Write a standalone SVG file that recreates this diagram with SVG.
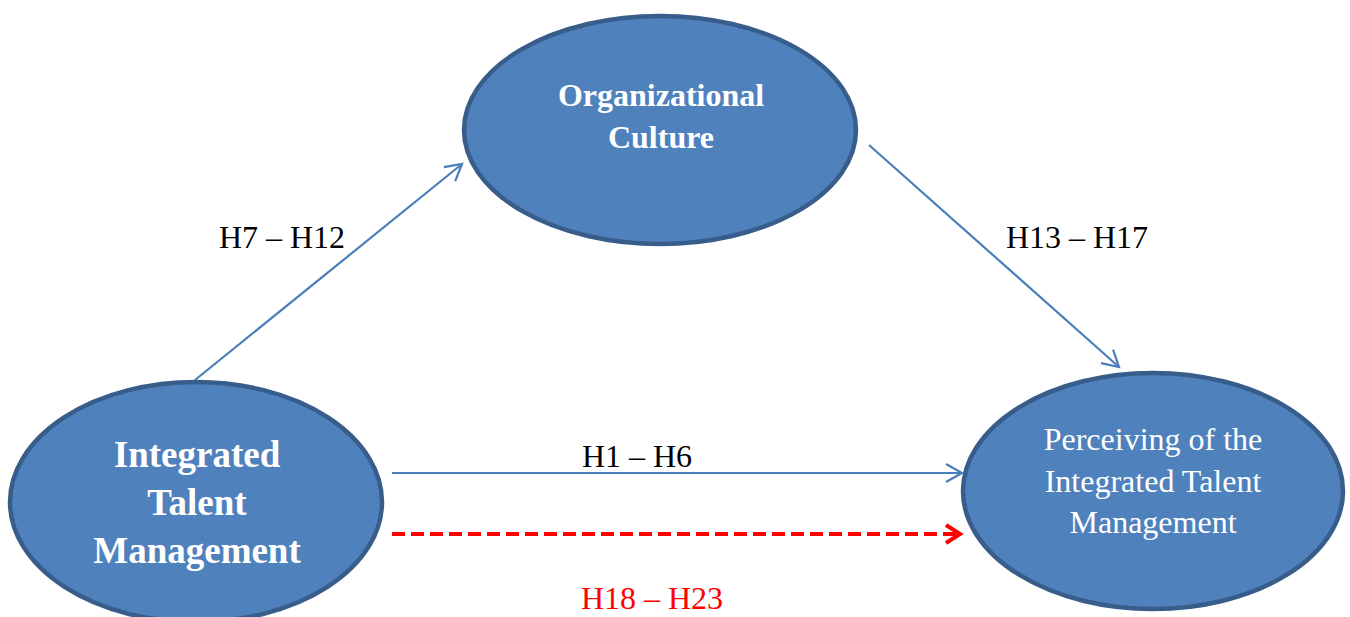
<svg xmlns="http://www.w3.org/2000/svg" width="1350" height="617" viewBox="0 0 1350 617">
<style>
.node{fill:#4F81BD;stroke:#385D8A;stroke-width:4.5}
.lbl{font-family:"Liberation Serif","Times New Roman",serif;font-size:32px;fill:#000;text-anchor:middle}
.nb{font-family:"Liberation Serif","Times New Roman",serif;font-weight:bold;fill:#fff;text-anchor:middle}
.nr{font-family:"Liberation Serif","Times New Roman",serif;fill:#fff;text-anchor:middle;font-size:32px}
.blue{stroke:#4A7EBB;stroke-width:2.2;fill:none}
.red{stroke:#FF0000;stroke-width:4;fill:none;stroke-dasharray:13 6}
</style>
<defs>
<marker id="ab" markerUnits="userSpaceOnUse" markerWidth="30" markerHeight="30" refX="20" refY="10" orient="auto" viewBox="0 0 30 20">
<path d="M4,1 L20,10 L4,19" fill="none" stroke="#4A7EBB" stroke-width="2.2"/>
</marker>
<marker id="ar" markerUnits="userSpaceOnUse" markerWidth="30" markerHeight="30" refX="20" refY="10" orient="auto" viewBox="0 0 30 20">
<path d="M6,1 L20,10 L6,19" fill="none" stroke="#FF0000" stroke-width="4"/>
</marker>
</defs>
<g id="connectors">
<line class="blue" x1="195" y1="380" x2="462" y2="164" marker-end="url(#ab)"/>
<line class="blue" x1="869" y1="145" x2="1119" y2="367" marker-end="url(#ab)"/>
<line class="blue" x1="392" y1="473" x2="962" y2="473" marker-end="url(#ab)"/>
<line class="red" x1="392" y1="534" x2="960" y2="534" marker-end="url(#ar)"/>
<text class="lbl" x="282" y="248">H7 – H12</text>
<text class="lbl" x="1077" y="248">H13 – H17</text>
<text class="lbl" x="637" y="467">H1 – H6</text>
<text class="lbl" x="652" y="609" style="fill:#FF0000">H18 – H23</text>
</g>
<g id="node-oc">
<ellipse class="node" cx="660" cy="130" rx="196" ry="114"/>
<text class="nb" x="661" y="106" font-size="32">Organizational</text>
<text class="nb" x="661" y="148" font-size="32">Culture</text>
</g>
<g id="node-itm">
<ellipse class="node" cx="196" cy="502" rx="186" ry="120"/>
<text class="nb" x="197" y="467" font-size="37">Integrated</text>
<text class="nb" x="197" y="515" font-size="37">Talent</text>
<text class="nb" x="197" y="563" font-size="37">Management</text>
</g>
<g id="node-pitm">
<ellipse class="node" cx="1153" cy="491" rx="190" ry="118"/>
<text class="nr" x="1153" y="450">Perceiving of the</text>
<text class="nr" x="1153" y="492">Integrated Talent</text>
<text class="nr" x="1153" y="533">Management</text>
</g>
</svg>
